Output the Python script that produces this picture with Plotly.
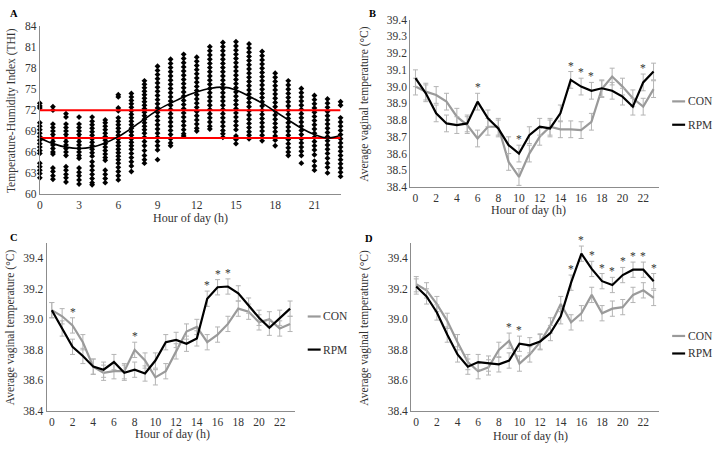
import plotly.graph_objects as go

W, H = 713, 450
FONT = "Liberation Serif"

# ---------------- Panel A data (THI by hour) ----------------
thi_hours = list(range(24))
thi_obs = [
    [73.0, 72.6, 72.3, 70.2, 69.7, 69.2, 68.7, 68.2, 67.7, 67.2, 66.7, 66.2, 65.8, 64.4, 63.9, 63.4, 62.9, 62.3],
    [72.5, 72.0, 70.0, 69.5, 69.0, 68.5, 68.0, 67.5, 67.0, 66.5, 66.0, 65.7, 63.7, 63.2, 62.6, 62.1],
    [71.5, 71.0, 70.0, 69.5, 69.0, 68.5, 68.0, 67.5, 67.0, 66.5, 66.0, 65.5, 63.9, 63.4, 62.8, 62.3, 61.7],
    [71.0, 70.0, 69.5, 69.0, 68.5, 68.0, 67.5, 67.0, 66.5, 66.0, 65.5, 65.1, 63.7, 63.1, 62.6, 62.0, 61.4],
    [71.0, 70.4, 69.9, 69.4, 68.9, 68.4, 67.9, 67.4, 66.9, 66.4, 65.9, 65.4, 64.6, 64.0, 63.4, 62.8, 62.2, 61.6, 61.3],
    [70.6, 70.2, 69.7, 69.2, 68.7, 68.2, 67.7, 67.2, 66.7, 66.2, 65.7, 65.2, 64.8, 63.4, 62.8, 62.2, 61.6],
    [74.2, 73.9, 72.3, 71.9, 70.9, 70.4, 69.9, 69.4, 68.9, 68.4, 67.9, 67.4, 66.9, 66.4, 65.9, 65.4, 64.9, 64.4, 63.8, 63.2, 62.6, 62.0],
    [74.4, 73.9, 73.4, 72.9, 72.4, 71.9, 71.4, 70.9, 70.4, 69.9, 69.4, 68.9, 68.4, 67.9, 67.4, 66.9, 66.4, 65.8, 65.2, 64.6, 64.0, 63.2],
    [76.2, 75.7, 75.2, 74.7, 74.2, 73.7, 73.2, 72.7, 72.2, 71.7, 71.2, 70.7, 70.2, 69.7, 69.2, 68.7, 68.1, 67.5, 66.9, 66.2, 65.5, 64.9, 64.4],
    [78.3, 77.7, 77.1, 76.5, 75.9, 75.3, 74.7, 74.1, 73.5, 72.9, 72.3, 71.7, 71.1, 70.5, 69.9, 69.3, 68.7, 68.1, 67.5, 66.9, 66.3, 64.9],
    [79.3, 78.7, 78.1, 77.5, 76.9, 76.3, 75.7, 75.1, 74.5, 73.9, 73.3, 72.7, 72.1, 71.5, 70.9, 70.3, 69.7, 69.1, 68.5, 67.9, 67.3, 66.9],
    [80.0, 79.4, 78.8, 78.2, 77.6, 77.0, 76.4, 75.8, 75.2, 74.6, 74.0, 73.4, 72.8, 72.2, 71.6, 71.0, 70.4, 69.8, 69.2, 68.6, 68.3],
    [79.6, 79.0, 78.4, 77.8, 77.2, 76.6, 76.0, 75.4, 74.8, 74.2, 73.6, 73.0, 72.4, 71.8, 71.2, 70.6, 70.0, 69.4, 69.0],
    [81.1, 80.5, 79.9, 79.3, 78.7, 78.1, 77.5, 76.9, 76.3, 75.7, 75.1, 74.5, 73.9, 73.3, 72.7, 72.1, 71.5, 70.9, 70.3, 69.7, 69.3],
    [81.7, 81.1, 80.5, 79.9, 79.3, 78.7, 78.1, 77.5, 76.9, 76.3, 75.7, 75.1, 74.5, 73.9, 73.3, 72.7, 72.1, 71.5, 70.9, 70.3, 69.7, 69.1, 68.6, 68.1],
    [81.8, 81.2, 80.6, 80.0, 79.4, 78.8, 78.2, 77.6, 77.0, 76.4, 75.8, 75.2, 74.6, 74.0, 73.4, 72.8, 72.2, 71.6, 71.0, 70.4, 69.8, 69.2, 68.3, 67.8, 67.2],
    [81.5, 80.9, 80.3, 79.7, 79.1, 78.5, 77.9, 77.3, 76.7, 76.1, 75.5, 74.9, 74.3, 73.7, 73.1, 72.5, 71.9, 71.3, 70.7, 70.1, 69.5, 68.9, 68.4, 67.9],
    [80.4, 79.8, 79.2, 78.6, 78.0, 77.4, 76.8, 76.2, 75.6, 75.0, 74.4, 73.8, 73.2, 72.6, 72.0, 71.4, 70.8, 70.2, 69.6, 69.0, 68.4, 67.6],
    [77.3, 76.7, 76.1, 75.5, 74.9, 74.3, 73.7, 73.1, 72.5, 71.9, 71.3, 70.7, 70.1, 69.5, 68.9, 68.3, 67.7, 66.9],
    [76.2, 75.6, 75.0, 74.4, 73.8, 73.2, 72.6, 72.0, 71.4, 70.8, 70.2, 69.6, 69.0, 68.4, 67.8, 67.2, 66.6, 66.0, 65.5],
    [75.1, 74.5, 73.9, 73.3, 72.7, 72.1, 71.5, 70.9, 70.3, 69.7, 69.1, 68.5, 67.9, 67.3, 66.7, 66.1, 65.5, 64.4],
    [74.1, 73.5, 72.9, 72.3, 71.7, 71.1, 70.5, 69.9, 69.3, 68.7, 68.1, 67.5, 66.9, 66.3, 65.6, 64.7, 64.0, 63.4],
    [73.6, 73.0, 72.4, 71.8, 71.2, 70.6, 70.0, 69.4, 68.8, 68.2, 67.6, 67.0, 66.4, 65.8, 65.1, 64.4, 63.8, 63.0],
    [73.2, 72.7, 70.9, 70.3, 69.7, 69.1, 68.5, 67.9, 67.3, 66.7, 66.1, 65.5, 64.9, 64.3, 63.7, 63.1, 62.5],
]
thi_fit = [68.0, 67.2, 66.7, 66.5, 66.7, 67.3, 68.2, 69.4, 70.7, 72.0, 73.0, 73.9,
           74.6, 75.1, 75.3, 74.9, 74.0, 73.0, 71.8, 70.6, 69.4, 68.5, 68.0, 68.4]
thi_thresholds = [72, 68]

# ---------------- Vaginal temperature panels ----------------
hours = list(range(24))

b_con = [39.00, 38.97, 38.95, 38.91, 38.82, 38.77, 38.69, 38.76, 38.76, 38.55, 38.46, 38.60,
         38.70, 38.76, 38.745, 38.745, 38.74, 38.79, 38.985, 39.06, 39.00, 38.93, 38.88, 38.985]
b_rpm = [39.05, 38.96, 38.84, 38.78, 38.77, 38.78, 38.91, 38.81, 38.75, 38.65, 38.60, 38.71,
         38.76, 38.75, 38.84, 39.04, 39.00, 38.975, 38.99, 38.975, 38.94, 38.88, 39.025, 39.09]
b_sig = [6, 10, 15, 16, 17, 22]

c_con = [39.06, 39.02, 38.96, 38.85, 38.69, 38.65, 38.66, 38.66, 38.80, 38.73, 38.62, 38.66,
         38.79, 38.92, 38.95, 38.85, 38.90, 38.97, 39.07, 39.05, 38.98, 39.00, 38.94, 38.97]
c_rpm = [39.06, 38.94, 38.82, 38.76, 38.69, 38.67, 38.72, 38.65, 38.67, 38.645, 38.73, 38.85,
         38.865, 38.84, 38.875, 39.135, 39.21, 39.215, 39.17, 39.09, 39.01, 38.945, 39.01, 39.07]
c_sig = [2, 8, 15, 16, 17]

d_con = [39.23, 39.19, 39.10, 38.99, 38.85, 38.72, 38.66, 38.685, 38.80, 38.86, 38.71, 38.77,
         38.85, 38.96, 39.10, 38.98, 39.04, 39.16, 39.04, 39.07, 39.08, 39.16, 39.19, 39.14]
d_rpm = [39.215, 39.15, 39.045, 38.90, 38.77, 38.69, 38.72, 38.71, 38.705, 38.73, 38.84, 38.83,
         38.855, 38.91, 39.02, 39.24, 39.43, 39.33, 39.25, 39.225, 39.29, 39.325, 39.325, 39.25]
d_sig = [9, 10, 15, 16, 17, 18, 19, 20, 21, 22, 23]

sem = 0.05  # approximate standard error shown by the error bars

CON_COLOR = "#9a9a9a"
RPM_COLOR = "#000000"
ERR_COLOR = "#b4b4b4"
AXIS_COLOR = "#8c8c8c"
TXT = "#333333"


def px_x(p):
    return p / W


def px_y(p):
    return 1 - p / H


fig = go.Figure()

# Panel A scatter
for h, vals in zip(thi_hours, thi_obs):
    fig.add_trace(go.Scatter(
        x=[h] * len(vals), y=vals, mode="markers", xaxis="x", yaxis="y",
        marker=dict(symbol="diamond", size=4.5, color="black"),
        cliponaxis=False, showlegend=False, hoverinfo="skip"))
for t in thi_thresholds:
    fig.add_trace(go.Scatter(x=[thi_hours[0], thi_hours[-1]], y=[t, t], mode="lines",
                             line=dict(color="#ff0000", width=2), xaxis="x", yaxis="y",
                             showlegend=False, cliponaxis=False))
fig.add_trace(go.Scatter(x=thi_hours, y=thi_fit, mode="lines",
                         line=dict(color="black", width=1.6, shape="spline"),
                         xaxis="x", yaxis="y", showlegend=False))

panels = [
    ("x2", "y2", b_con, b_rpm, b_sig),
    ("x3", "y3", c_con, c_rpm, c_sig),
    ("x4", "y4", d_con, d_rpm, d_sig),
]

annotations = []
for xa, ya, con, rpm, sig in panels:
    for vals, col in ((con, CON_COLOR), (rpm, RPM_COLOR)):
        fig.add_trace(go.Scatter(
            x=hours, y=vals, mode="lines", xaxis=xa, yaxis=ya,
            line=dict(color=col, width=2.2),
            error_y=dict(type="constant", value=sem, color=ERR_COLOR, thickness=1, width=2.5),
            showlegend=False, cliponaxis=False))
    for h in sig:
        top = max(con[h], rpm[h]) + sem
        annotations.append(dict(x=h, y=top, xref=xa, yref=ya, text="*", showarrow=False,
                                yanchor="middle", yshift=6,
                                font=dict(family=FONT, size=11.5, color="#333333")))

axis_common = dict(showline=True, linecolor=AXIS_COLOR, linewidth=1, showgrid=False,
                   zeroline=False, ticks="", tickfont=dict(family=FONT, size=11.5, color=TXT))

layout_axes = dict(
    xaxis=dict(domain=[px_x(37), px_x(339)], range=[0, 23], tickvals=list(range(0, 22, 3)),
               anchor="y", **axis_common),
    yaxis=dict(domain=[px_y(193), px_y(21)], range=[60, 84], tickvals=list(range(60, 85, 3)),
               anchor="x", **axis_common),
    xaxis2=dict(domain=[px_x(409), px_x(658.5)], range=[-0.5, 23.5], tickvals=list(range(0, 23, 2)),
                anchor="y2", **axis_common),
    yaxis2=dict(domain=[px_y(186), px_y(14)], range=[38.4, 39.4],
                tickvals=[round(38.4 + 0.1 * i, 1) for i in range(11)], tickformat=".1f",
                anchor="x2", **axis_common),
    xaxis3=dict(domain=[px_x(43.8), px_x(293.5)], range=[-0.5, 23.5], tickvals=list(range(0, 23, 2)),
                anchor="y3", **axis_common),
    yaxis3=dict(domain=[px_y(416), px_y(243.5)], range=[38.4, 39.5],
                tickvals=[38.4, 38.6, 38.8, 39.0, 39.2, 39.4], tickformat=".1f",
                anchor="x3", **axis_common),
    xaxis4=dict(domain=[px_x(409.8), px_x(658.6)], range=[-0.5, 23.5], tickvals=list(range(0, 23, 2)),
                anchor="y4", **axis_common),
    yaxis4=dict(domain=[px_y(416), px_y(243.5)], range=[38.4, 39.5],
                tickvals=[38.4, 38.6, 38.8, 39.0, 39.2, 39.4], tickformat=".1f",
                anchor="x4", **axis_common),
)


def label(text, x, y, size=12, angle=0, bold=False, xanchor="center"):
    annotations.append(dict(text=f"<b>{text}</b>" if bold else text, x=px_x(x), y=px_y(y),
                            xref="paper", yref="paper", showarrow=False, textangle=angle,
                            xanchor=xanchor, yanchor="middle",
                            font=dict(family=FONT, size=size, color=TXT if not bold else "black")))


# panel letters
label("A", 5, 8, size=10.5, bold=True, xanchor="left")
label("B", 366, 8, size=10.5, bold=True, xanchor="left")
label("C", 5, 238, size=10.5, bold=True, xanchor="left")
label("D", 362, 239, size=10.5, bold=True, xanchor="left")

# axis titles
label("Temperature-Humidity Index (THI)", 8, 107, size=11.5, angle=-90)
label("Hour of day (h)", 188, 218, size=12)
label("Average vaginal temperature (°C)", 363, 100, size=11.5, angle=-90)
label("Hour of day (h)", 528, 210, size=12)
label("Average vaginal temperature (°C)", 7, 330, size=11.5, angle=-90)
label("Hour of day (h)", 170, 440, size=12)
label("Average vaginal temperature (°C)", 363, 330, size=11.5, angle=-90)
label("Hour of day (h)", 530, 442, size=12)

# legends (drawn as short line keys + labels)
shapes = []
for (lx, y_con, y_rpm) in [(672, 98, 122), (306, 319, 353), (672, 339, 357)]:
    for yy, col, name in ((y_con, CON_COLOR, "CON"), (y_rpm, RPM_COLOR, "RPM")):
        shapes.append(dict(type="line", xref="paper", yref="paper",
                           x0=px_x(lx), x1=px_x(lx + 13), y0=px_y(yy), y1=px_y(yy),
                           line=dict(color=col, width=2.2)))
        label(name, lx + 13.5, yy, size=11.5, xanchor="left")

fig.update_layout(
    width=W, height=H, margin=dict(l=0, r=0, t=0, b=0),
    paper_bgcolor="white", plot_bgcolor="white",
    font=dict(family=FONT, size=11.5, color=TXT),
    showlegend=False, annotations=annotations, shapes=shapes,
    **layout_axes,
)

fig.write_html("out.html")
